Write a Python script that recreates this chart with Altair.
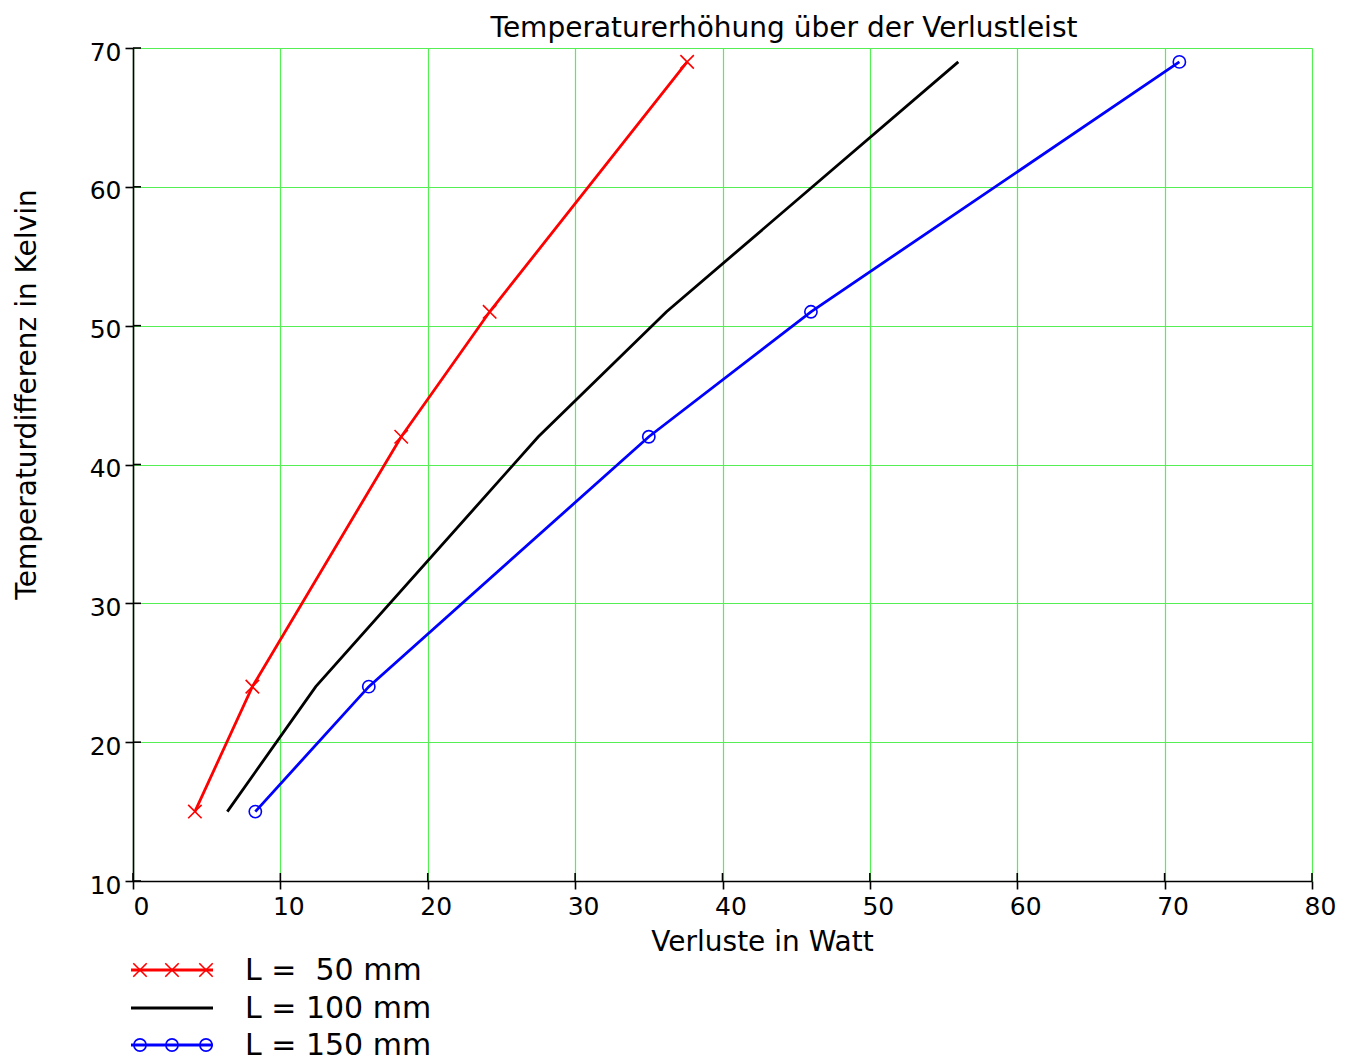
import altair as alt
import pandas as pd

# ---- data ----
title_text = "Temperaturerhöhung über der Verlustleist"
series_names = ["L = \u00a050 mm", "L = 100 mm", "L = 150 mm"]
series_colors = ["#ff0000", "#000000", "#0000ff"]

x_50 = [4.2, 8.1, 18.2, 24.2, 37.6]
y_50 = [15, 24, 42, 51, 69]
x_100 = [6.4, 12.4, 27.5, 36.2, 56.0]
y_100 = [15, 24, 42, 51, 69]
x_150 = [8.3, 16.0, 35.0, 46.0, 71.0]
y_150 = [15, 24, 42, 51, 69]

x_ticks = [0, 10, 20, 30, 40, 50, 60, 70, 80]
y_ticks = [10, 20, 30, 40, 50, 60, 70]

W, H = 1179, 833
FONT = "DejaVu Sans"
GRID = "#55ee55"

rows = []
for name, xs, ys in [(series_names[0], x_50, y_50),
                     (series_names[1], x_100, y_100),
                     (series_names[2], x_150, y_150)]:
    for i, (xv, yv) in enumerate(zip(xs, ys)):
        rows.append({"series": name, "x": xv, "y": yv, "order": i})
df = pd.DataFrame(rows)

color_scale = alt.Scale(domain=series_names, range=series_colors)
xscale = alt.Scale(domain=[0, 80], nice=False, zero=False)
yscale = alt.Scale(domain=[10, 70], nice=False, zero=False)

x_axis = alt.Axis(values=x_ticks, title="Verluste in Watt", grid=True, gridColor=GRID,
                  gridWidth=1.2, domainColor="black", domainWidth=1.6, tickColor="black",
                  tickWidth=1.6, tickSize=8, labelFont=FONT, labelFontSize=25,
                  labelColor="black", labelPadding=5, labelOffset=8, labelFlush=False,
                  titleFont=FONT, titleFontSize=28, titleFontWeight="normal",
                  titleColor="black", titleX=629, titleY=61, titleAlign="center",
                  titleBaseline="middle")
y_axis = alt.Axis(values=y_ticks, title="Temperaturdifferenz in Kelvin", grid=True,
                  gridColor=GRID, gridWidth=1.2, domainColor="black", domainWidth=1.6,
                  tickColor="black", tickWidth=1.6, tickSize=8, labelFont=FONT,
                  labelFontSize=25, labelColor="black", labelPadding=4, labelOffset=4,
                  labelFlush=False, titleFont=FONT, titleFontSize=28,
                  titleFontWeight="normal", titleColor="black", titleX=-106, titleY=346,
                  titleAlign="center", titleBaseline="middle", titleAngle=270)

base = alt.Chart(df)

lines = base.mark_line(strokeWidth=2.8, clip=False).encode(
    x=alt.X("x:Q", scale=xscale, axis=x_axis),
    y=alt.Y("y:Q", scale=yscale, axis=y_axis),
    color=alt.Color("series:N", scale=color_scale, legend=None),
    order="order:Q",
    detail="series:N",
)

xs_path = "M-1,-1L1,1M-1,1L1,-1"
red_pts = base.transform_filter(alt.datum.series == series_names[0]).mark_point(
    shape=xs_path, size=180, strokeWidth=1.6, filled=False, color="#ff0000", opacity=1
).encode(x=alt.X("x:Q", scale=xscale), y=alt.Y("y:Q", scale=yscale))
blue_pts = base.transform_filter(alt.datum.series == series_names[2]).mark_point(
    shape="circle", size=150, strokeWidth=1.6, filled=False, color="#0000ff", opacity=1
).encode(x=alt.X("x:Q", scale=xscale), y=alt.Y("y:Q", scale=yscale))

# inner halves of the tick marks (ticks cross the axes)
xt = alt.Chart(pd.DataFrame({"t": x_ticks})).mark_rule(color="black", strokeWidth=1.6).encode(
    x=alt.X("t:Q", scale=xscale), y=alt.value(H - 8), y2=alt.value(H))
yt = alt.Chart(pd.DataFrame({"t": y_ticks})).mark_rule(color="black", strokeWidth=1.6).encode(
    y=alt.Y("t:Q", scale=yscale), x=alt.value(0), x2=alt.value(8))

one = pd.DataFrame({"a": [0]})

# chart title as a text mark above the plot
title_mark = alt.Chart(one).mark_text(
    text=title_text, align="center", baseline="alphabetic", font=FONT, fontSize=28,
    color="black"
).encode(x=alt.value(651), y=alt.value(-11))

# manual legend below the plot
legend_layers = []
row_y = [922, 960, 997]
marker_x = [7, 39, 73]
for i, name in enumerate(series_names):
    c = series_colors[i]
    legend_layers.append(alt.Chart(one).mark_rule(color=c, strokeWidth=2.8).encode(
        x=alt.value(-2), x2=alt.value(80), y=alt.value(row_y[i])))
    legend_layers.append(alt.Chart(one).mark_text(
        text=name, align="left", baseline="middle", font=FONT, fontSize=30, color="black"
    ).encode(x=alt.value(112), y=alt.value(row_y[i] + 1)))
    if i == 0:
        for mx in marker_x:
            legend_layers.append(alt.Chart(one).mark_point(
                shape=xs_path, size=180, strokeWidth=1.6, filled=False, color=c, opacity=1
            ).encode(x=alt.value(mx), y=alt.value(row_y[i])))
    if i == 2:
        for mx in marker_x:
            legend_layers.append(alt.Chart(one).mark_point(
                shape="circle", size=150, strokeWidth=1.6, filled=False, color=c, opacity=1
            ).encode(x=alt.value(mx), y=alt.value(row_y[i])))

chart = alt.layer(xt, yt, lines, red_pts, blue_pts, title_mark, *legend_layers).properties(
    width=W, height=H,
    autosize=alt.AutoSizeParams(type="none"),
    padding={"left": 125, "top": 40, "right": 35, "bottom": 182},
).configure_view(stroke=None).configure(background="white")

chart.save("out.html", embed_options={"renderer": "svg", "actions": False})
